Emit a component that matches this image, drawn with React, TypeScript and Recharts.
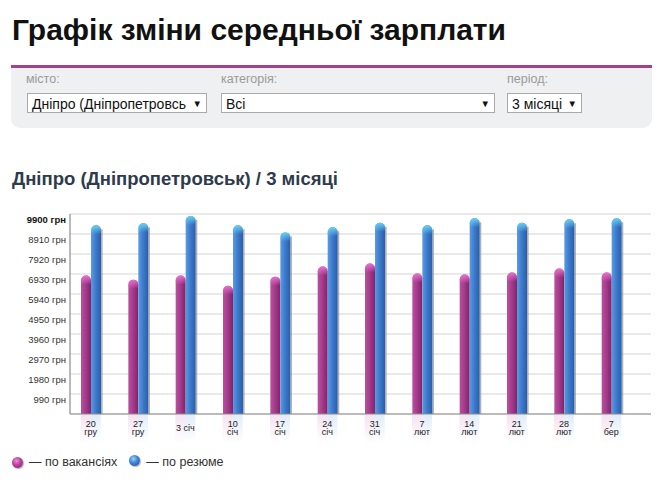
import { BarChart, Bar, XAxis, YAxis, CartesianGrid } from 'recharts'

const dayLabels = ['20', '27', '3 січ', '10', '17', '24', '31', '7', '14', '21', '28', '7']
const monthLabels = ['гру', 'гру', '', 'січ', 'січ', 'січ', 'січ', 'лют', 'лют', 'лют', 'лют', 'бер']
const byVacancies = [6850, 6650, 6850, 6350, 6800, 7300, 7450, 6950, 6900, 7000, 7200, 7000]
const byResumes = [9340, 9440, 9800, 9340, 8990, 9240, 9470, 9340, 9690, 9470, 9640, 9690]
const yTicks = [0, 990, 1980, 2970, 3960, 4950, 5940, 6930, 7920, 8910, 9900]

const data = dayLabels.map((d, i) => ({ idx: i, vac: byVacancies[i], res: byResumes[i] }))

const FONT = "'Liberation Sans', Arial, sans-serif"
const NARROW = "'Liberation Sans Narrow', 'Liberation Sans', Arial, sans-serif"

function Cylinder({ x, y, width, height, tone }: any) {
  if (!height || height <= 0) return null
  const r = width / 2
  const body = `M${x},${y + r} A${r},${r} 0 0 1 ${x + width},${y + r} L${x + width},${y + height} L${x},${y + height} Z`
  const capH = Math.min(9, height)
  const cap = `M${x},${y + r} A${r},${r} 0 0 1 ${x + width},${y + r} L${x + width},${y + capH} L${x},${y + capH} Z`
  return (
    <g>
      {tone === 'blue' && (
        <rect x={x + width} y={y + 4} width={1.6} height={height - 4} fill="#8a8f99" opacity={0.7} />
      )}
      <path d={body} fill={`url(#body-${tone})`} />
      <path d={cap} fill={`url(#cap-${tone})`} />
    </g>
  )
}

function YTick({ x, y, payload }: any) {
  if (!payload.value) return null
  const top = payload.value === 9900
  return (
    <text x={x} y={y + 8.5} textAnchor="end" fontSize={9.5} fontFamily={FONT}
      fontWeight={top ? 700 : 400} fill={top ? '#111' : '#333'}>
      {payload.value} грн
    </text>
  )
}

function XTick({ x, y, payload }: any) {
  const i = payload.value
  const month = monthLabels[i]
  return (
    <g>
      <rect x={x - 10} y={y + 1} width={10} height={28} fill="url(#glow-pink)" />
      <rect x={x} y={y + 1} width={10} height={28} fill="url(#glow-blue)" />
      {month ? (
        <>
          <text x={x} y={y + 12.5} textAnchor="middle" fontSize={9} fontFamily={FONT} fill="#222">{dayLabels[i]}</text>
          <text x={x} y={y + 21} textAnchor="middle" fontSize={9} fontFamily={FONT} fill="#222">{month}</text>
        </>
      ) : (
        <text x={x} y={y + 17} textAnchor="middle" fontSize={9} fontFamily={FONT} fill="#222">{dayLabels[i]}</text>
      )}
    </g>
  )
}

function Select({ left, width, text }: { left: number; width: number; text: string }) {
  return (
    <div style={{
      position: 'absolute', left, top: 93, width: width - 2, height: 18,
      background: '#fff', border: '1px solid #a9a9a9', overflow: 'hidden',
    }}>
      <span style={{ position: 'absolute', left: 4, top: 1.5, fontSize: 14, lineHeight: '16px', color: '#111', fontFamily: FONT, whiteSpace: 'nowrap' }}>{text}</span>
      <span style={{ position: 'absolute', right: 4, top: 3.5, fontSize: 9.5, lineHeight: '11px', color: '#111', fontFamily: FONT }}>▼</span>
    </div>
  )
}

function Label({ left, text }: { left: number; text: string }) {
  return (
    <div style={{ position: 'absolute', left, top: 72, fontSize: 12.5, lineHeight: '14px', color: '#9a9a9a', fontFamily: NARROW }}>{text}</div>
  )
}

function Dot({ tone }: { tone: 'pink' | 'blue' }) {
  const bg = tone === 'pink'
    ? 'radial-gradient(circle at 40% 35%, #f08ad8 0%, #b8409a 45%, #7a1f63 100%)'
    : 'radial-gradient(circle at 40% 35%, #8fd8ff 0%, #3f7fd0 45%, #1d4e9a 100%)'
  return <span style={{ display: 'inline-block', width: 11, height: 11, borderRadius: '50%', background: bg, boxShadow: '1px 1px 1px rgba(0,0,0,0.3)' }} />
}

export default function App() {
  return (
    <div style={{ position: 'absolute', left: 0, top: 0, width: 665, height: 489, background: '#fff', fontFamily: FONT }}>
      <div style={{ position: 'absolute', left: 12, top: 14.6, fontSize: 30, lineHeight: 1, fontWeight: 700, color: '#111', whiteSpace: 'nowrap' }}>
        Графік зміни середньої зарплати
      </div>

      <div style={{
        position: 'absolute', left: 11, top: 65, width: 641, height: 60, background: '#eef0f2',
        borderTop: '3px solid #a3418a', borderRadius: '0 0 9px 9px',
      }} />
      <Label left={26} text="місто:" />
      <Label left={221} text="категорія:" />
      <Label left={507} text="період:" />
      <Select left={27} width={180} text="Дніпро (Дніпропетровсь" />
      <Select left={221} width={274} text="Всі" />
      <Select left={507} width={75} text="3 місяці" />

      <div style={{ position: 'absolute', left: 12, top: 169.5, fontSize: 18.5, lineHeight: 1, fontWeight: 700, color: '#2d3b4c', whiteSpace: 'nowrap' }}>
        Дніпро (Дніпропетровськ) / 3 місяці
      </div>

      <div style={{ position: 'absolute', left: 0, top: 200 }}>
        <BarChart width={665} height={250} data={data} margin={{ top: 14, right: 14, left: 0, bottom: 0 }} barSize={10} barGap={0}>
          <defs>
            <linearGradient id="body-pink" x1="0" y1="0" x2="1" y2="0">
              <stop offset="0%" stopColor="#b9519f" />
              <stop offset="45%" stopColor="#a63b8c" />
              <stop offset="100%" stopColor="#7e2468" />
            </linearGradient>
            <linearGradient id="body-blue" x1="0" y1="0" x2="1" y2="0">
              <stop offset="0%" stopColor="#5b9be0" />
              <stop offset="45%" stopColor="#3d7cce" />
              <stop offset="100%" stopColor="#2a5da8" />
            </linearGradient>
            <linearGradient id="cap-pink" x1="0" y1="0" x2="0" y2="1">
              <stop offset="0%" stopColor="#e96fd2" stopOpacity={1} />
              <stop offset="100%" stopColor="#e96fd2" stopOpacity={0} />
            </linearGradient>
            <linearGradient id="cap-blue" x1="0" y1="0" x2="0" y2="1">
              <stop offset="0%" stopColor="#66d2f2" stopOpacity={1} />
              <stop offset="100%" stopColor="#66d2f2" stopOpacity={0} />
            </linearGradient>
            <linearGradient id="glow-pink" x1="0" y1="0" x2="0" y2="1">
              <stop offset="0%" stopColor="#c050a8" stopOpacity={0.16} />
              <stop offset="100%" stopColor="#c050a8" stopOpacity={0} />
            </linearGradient>
            <linearGradient id="glow-blue" x1="0" y1="0" x2="0" y2="1">
              <stop offset="0%" stopColor="#4a8ad8" stopOpacity={0.16} />
              <stop offset="100%" stopColor="#4a8ad8" stopOpacity={0} />
            </linearGradient>
          </defs>
          <CartesianGrid vertical={false} stroke="#e3e3e3" strokeWidth={1.5} />
          <XAxis dataKey="idx" type="category" height={36} tickSize={0} tickMargin={0} tickLine={false}
            axisLine={{ stroke: '#8c8c8c', strokeWidth: 1.2 }} padding={{ left: -3, right: 16 }}
            interval={0} tick={<XTick />} />
          <YAxis width={70} domain={[0, 9900]} ticks={yTicks} interval={0} tickSize={4} tickMargin={0}
            tickLine={false} axisLine={{ stroke: '#8c8c8c', strokeWidth: 1.2 }} tick={<YTick />} />
          <Bar dataKey="vac" isAnimationActive={false} shape={(p: any) => <Cylinder {...p} tone="pink" />} />
          <Bar dataKey="res" isAnimationActive={false} shape={(p: any) => <Cylinder {...p} tone="blue" />} />
        </BarChart>
      </div>

      <div style={{ position: 'absolute', left: 12, top: 455, display: 'flex', alignItems: 'center', fontSize: 12.5, color: '#333', whiteSpace: 'nowrap' }}>
        <Dot tone="pink" />
        <span style={{ marginLeft: 6 }}>— по вакансіях</span>
        <span style={{ marginLeft: 12 }}><Dot tone="blue" /></span>
        <span style={{ marginLeft: 6 }}>— по резюме</span>
      </div>
    </div>
  )
}
